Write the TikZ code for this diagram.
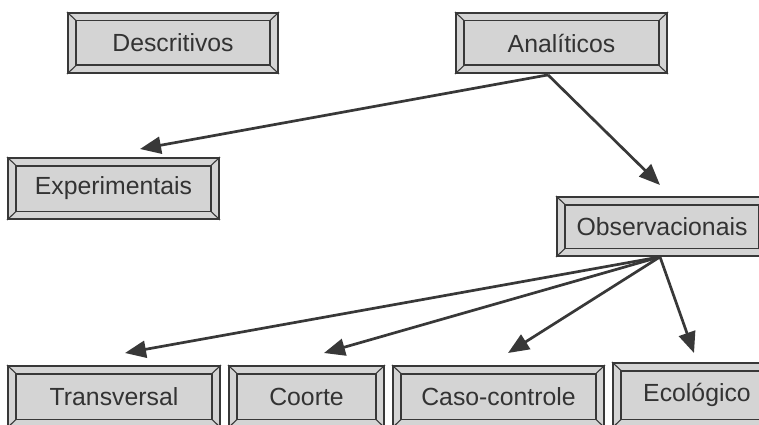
\documentclass[tikz,border=0pt]{standalone}
\usepackage{fontspec}
\setmainfont{Liberation Sans}
\usetikzlibrary{arrows.meta}
\definecolor{boxfill}{HTML}{D4D4D4}
\definecolor{edge}{HTML}{383838}
\definecolor{txt}{HTML}{333333}
\begin{document}
\begin{tikzpicture}[x=1pt,y=1pt,
  bevelbox/.style={draw=edge, fill=boxfill, line width=1.8pt, inner sep=0pt,
    minimum height=60pt, text=txt, font=\fontsize{24.8}{28}\selectfont},
  conn/.style={draw=edge, line width=2.7pt, -{Triangle[length=21pt,width=17pt]}}]
\useasboundingbox (0,0) rectangle (759,424);
\clip (0,0) rectangle (759,424);
\fill[white] (0,0) rectangle (759,424);
% boxes (y = 424 - pixel row)
\node[bevelbox, minimum width=210pt] (desc)  at (173,381)   {Descritivos};
\node[bevelbox, minimum width=211pt] (ana)   at (561.5,381) {Analíticos};
\node[bevelbox, minimum width=211pt, minimum height=61pt] (exp) at (113.5,235.5) {Experimentais};
\node[bevelbox, minimum width=210pt, minimum height=59pt] (obs) at (662,197.5) {Observacionais};
\node[bevelbox, minimum width=212pt, minimum height=61pt] (trans) at (114,27.5) {Transversal};
\node[bevelbox, minimum width=155pt, minimum height=61pt] (coorte) at (306.5,27.5) {Coorte};
\node[bevelbox, minimum width=211pt, minimum height=61pt] (caso) at (498.5,27.5) {Caso-controle};
\node[bevelbox, minimum width=168pt, minimum height=64pt] (eco) at (697,29) {Ecológico};
% bevels
\foreach \n in {desc,ana,exp,obs,trans,coorte,caso,eco}{
  \draw[edge, line width=1.8pt] ([shift={(9,-8.5)}]\n.north west) rectangle ([shift={(-9,8.5)}]\n.south east);
  \draw[edge, line width=1.1pt]
    (\n.north west) -- ([shift={(9,-8.5)}]\n.north west)
    (\n.north east) -- ([shift={(-9,-8.5)}]\n.north east)
    (\n.south west) -- ([shift={(9,8.5)}]\n.south west)
    (\n.south east) -- ([shift={(-9,8.5)}]\n.south east);
}
% connector ends
\coordinate (anaout) at ([xshift=-13.5pt,yshift=-1pt]ana.south);
\coordinate (obsout) at ([xshift=-2pt]obs.south);
\coordinate (texp) at (140,275);
\coordinate (tobs) at (660,239);
\coordinate (ttrans) at (125,71);
\coordinate (tcoorte) at (324,71);
\coordinate (tcaso) at (508,71);
\coordinate (teco) at (694,71);
% connectors
\draw[conn] (anaout) -- (texp);
\draw[conn] (anaout) -- (tobs);
\draw[conn] (obsout) -- (ttrans);
\draw[conn] (obsout) -- (tcoorte);
\draw[conn] (obsout) -- (tcaso);
\draw[conn] (obsout) -- (teco);
\end{tikzpicture}
\end{document}
